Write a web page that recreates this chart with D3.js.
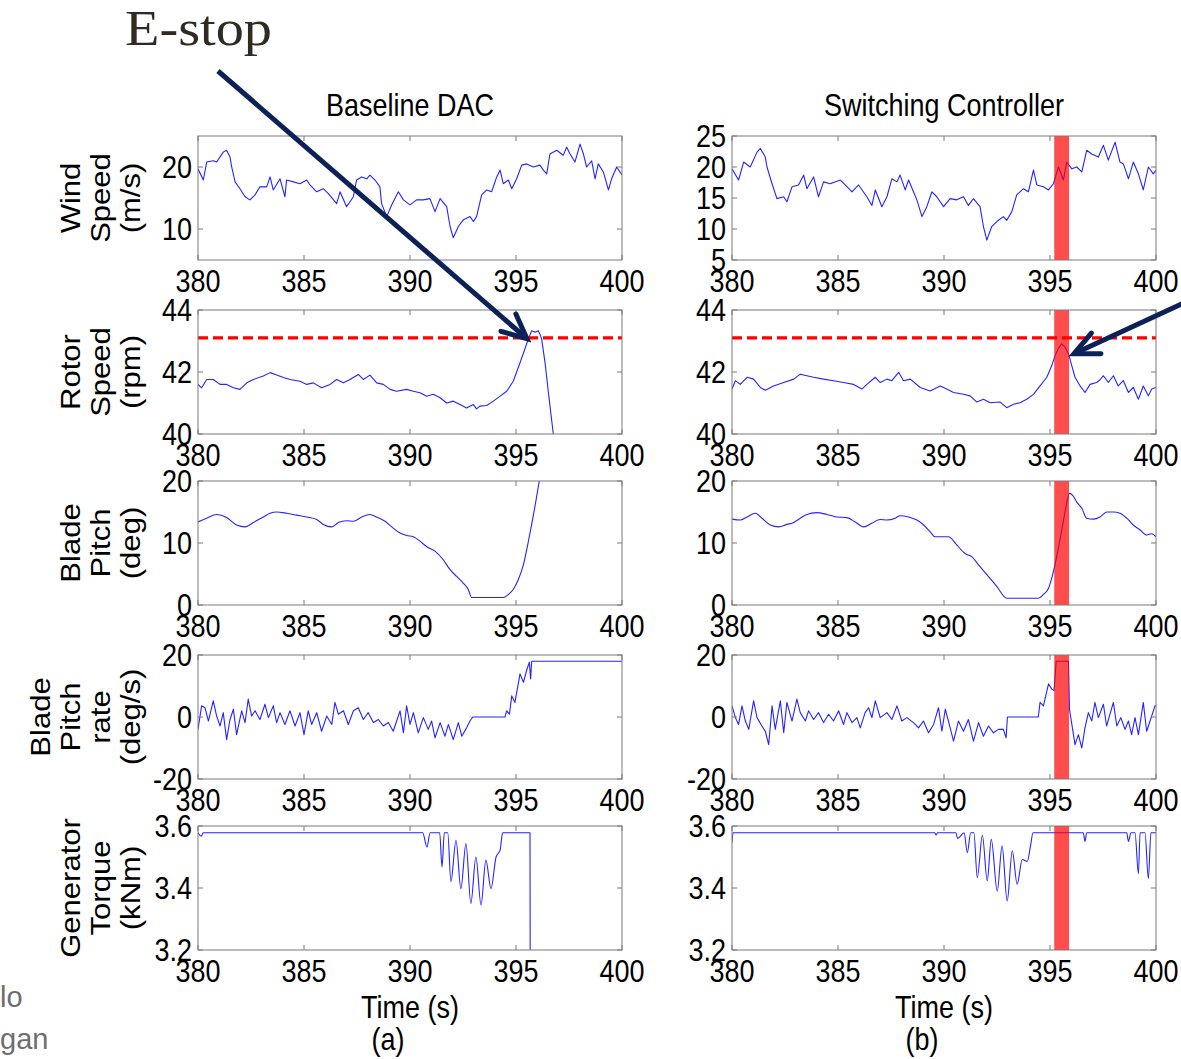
<!DOCTYPE html>
<html><head><meta charset="utf-8">
<script src="https://cdn.jsdelivr.net/npm/d3@7"></script>
<style>body{margin:0;background:#fff}svg{display:block}</style>
</head><body>
<svg id="c" width="1181" height="1059"></svg>
<script>
// ---------------- DATA ----------------
const timeTicks = [380, 385, 390, 395, 400];
const columnTitles = ["Baseline DAC", "Switching Controller"];
const columnSubs = ["(a)", "(b)"];
const rowLabels = [
  ["Wind", "Speed", "(m/s)"],
  ["Rotor", "Speed", "(rpm)"],
  ["Blade", "Pitch", "(deg)"],
  ["Blade", "Pitch", "rate", "(deg/s)"],
  ["Generator", "Torque", "(kNm)"]
];
const rowDomains = [[5, 25], [40, 44], [0, 20], [-20, 20], [3.2, 3.6]];
const yTicksDAC = [[10, 20], [40, 42, 44], [0, 10, 20], [-20, 0, 20], [3.2, 3.4, 3.6]];
const yTicksSW  = [[5, 10, 15, 20, 25], [40, 42, 44], [0, 10, 20], [-20, 0, 20], [3.2, 3.4, 3.6]];
const rotorLimit = 43.1;
const switchWindow = [395.2, 395.9];
const estopTime = 395.75, estopRotor = 43.3;   // arrow target, left panel
const switchPeakTime = 395.8, switchPeakRotor = 42.85;

const windDAC = [[380.00,19.7],[380.25,17.9],[380.41,20.8],[380.72,21.0],[380.88,20.8],[381.19,22.4],[381.35,22.7],[381.51,21.6],[381.59,20.0],[381.75,17.6],[381.98,16.5],[382.22,15.2],[382.45,14.7],[382.69,15.5],[382.92,16.8],[383.24,16.8],[383.40,18.4],[383.55,16.3],[383.87,18.1],[384.10,15.2],[384.18,17.9],[384.50,17.6],[384.81,17.3],[385.13,17.9],[385.28,17.1],[385.60,16.0],[385.91,16.5],[386.15,15.7],[386.54,14.1],[386.70,16.0],[387.01,13.6],[387.33,15.2],[387.48,17.9],[387.72,18.4],[387.96,18.1],[388.11,18.7],[388.35,17.9],[388.58,16.8],[388.66,14.1],[388.90,12.0],[389.14,13.9],[389.45,16.0],[389.69,14.7],[390.00,13.9],[390.31,14.7],[390.63,14.7],[390.94,14.9],[391.18,12.8],[391.42,14.9],[391.73,13.6],[391.89,10.4],[392.04,8.6],[392.28,10.4],[392.52,11.5],[392.83,12.0],[392.99,11.2],[393.14,12.0],[393.38,15.5],[393.62,16.3],[393.85,16.0],[394.09,18.4],[394.25,19.5],[394.40,17.3],[394.64,17.9],[394.80,16.5],[395.03,18.1],[395.27,20.3],[395.50,20.5],[395.82,20.0],[396.13,20.3],[396.29,19.5],[396.45,18.9],[396.60,22.1],[396.92,22.7],[397.23,21.9],[397.39,23.2],[397.55,22.1],[397.78,20.8],[398.02,23.7],[398.18,22.1],[398.33,20.0],[398.57,21.0],[398.73,18.1],[398.88,20.5],[399.12,19.2],[399.36,16.3],[399.51,18.1],[399.75,20.0],[400.00,18.7]];
const windSW = [[380.00,19.7],[380.31,17.9],[380.55,20.8],[380.86,20.0],[381.18,22.4],[381.34,23.0],[381.57,21.6],[381.65,20.0],[381.89,17.3],[382.12,14.9],[382.44,15.2],[382.59,14.4],[382.83,16.8],[383.14,17.1],[383.38,18.7],[383.53,16.5],[383.85,18.4],[384.08,15.2],[384.32,17.6],[384.63,17.3],[385.11,17.9],[385.34,17.1],[385.66,16.0],[385.97,17.1],[386.36,15.2],[386.60,13.8],[386.76,16.3],[387.07,13.6],[387.31,15.2],[387.54,18.1],[387.78,17.6],[387.93,18.7],[388.17,16.3],[388.33,17.9],[388.56,16.0],[388.72,14.7],[388.96,12.0],[389.19,13.6],[389.43,16.0],[389.66,15.2],[389.98,13.6],[390.29,14.9],[390.60,14.7],[390.92,15.2],[391.15,13.8],[391.39,14.9],[391.70,13.6],[391.86,10.4],[392.02,8.2],[392.25,10.4],[392.49,11.2],[392.80,12.0],[392.96,11.4],[393.20,12.8],[393.43,15.5],[393.75,16.5],[393.98,16.0],[394.22,19.5],[394.38,17.1],[394.69,16.8],[394.93,16.3],[395.16,17.3],[395.40,20.0],[395.63,17.9],[395.79,20.8],[396.03,19.7],[396.26,20.0],[396.50,19.2],[396.73,22.7],[396.97,22.1],[397.28,21.6],[397.52,23.5],[397.75,21.1],[398.07,24.0],[398.30,20.8],[398.46,20.5],[398.70,18.1],[398.93,20.8],[399.17,18.9],[399.40,16.3],[399.64,20.0],[399.87,18.9],[400.00,19.5]];

const rotorDAC = [[380.00,41.60],[380.17,41.49],[380.41,41.76],[380.72,41.76],[381.04,41.60],[381.35,41.60],[381.67,41.49],[381.98,41.44],[382.30,41.65],[382.61,41.76],[383.08,41.87],[383.40,41.98],[383.71,41.90],[384.03,41.82],[384.34,41.76],[384.81,41.70],[385.13,41.60],[385.44,41.65],[385.83,41.49],[386.23,41.60],[386.54,41.76],[386.86,41.65],[387.17,41.76],[387.56,41.92],[387.80,41.76],[388.11,41.90],[388.43,41.65],[388.74,41.60],[389.06,41.44],[389.37,41.38],[389.84,41.44],[390.16,41.38],[390.47,41.33],[390.79,41.22],[391.10,41.28],[391.42,41.17],[391.73,41.00],[392.04,41.06],[392.36,40.95],[392.67,40.84],[392.99,40.95],[393.14,40.81],[393.30,40.90],[393.62,40.92],[393.93,41.06],[394.25,41.22],[394.56,41.38],[394.87,41.70],[395.19,42.30],[395.42,42.74],[395.58,43.06],[395.74,43.33],[395.90,43.28],[396.05,43.33],[396.13,43.22],[396.21,43.06],[396.37,42.30],[396.53,41.33],[396.68,40.46],[396.76,40.00],[396.90,39.40]];
const rotorSW = [[380.00,41.45],[380.16,41.72],[380.39,41.60],[380.71,41.83],[381.02,41.77],[381.34,41.50],[381.57,41.41],[381.96,41.55],[382.44,41.66],[382.91,41.77],[383.22,41.93],[383.53,41.88],[383.85,41.83],[384.32,41.77],[384.79,41.72],[385.26,41.66],[385.73,41.60],[386.13,41.45],[386.36,41.60],[386.76,41.83],[386.99,41.66],[387.31,41.77],[387.54,41.72],[387.86,41.99],[388.09,41.72],[388.41,41.77],[388.88,41.50],[389.35,41.39],[389.82,41.55],[390.13,41.45],[390.45,41.34],[390.92,41.28],[391.23,41.23],[391.55,41.03],[391.86,41.12],[392.18,41.01],[392.65,41.03],[392.96,40.85],[393.28,40.96],[393.59,41.01],[393.90,41.12],[394.22,41.28],[394.53,41.55],[394.85,41.83],[395.08,42.20],[395.24,42.53],[395.40,42.77],[395.55,42.91],[395.71,42.80],[395.87,42.59],[396.03,42.20],[396.18,41.83],[396.42,41.55],[396.65,41.34],[396.89,41.60],[397.20,41.66],[397.36,41.75],[397.52,41.88],[397.75,41.66],[397.99,41.88],[398.22,41.55],[398.46,41.72],[398.70,41.34],[398.93,41.50],[399.17,41.12],[399.40,41.55],[399.64,41.23],[399.80,41.45],[400.00,41.50]];

const pitchDAC = [[380.00,13.4],[380.41,14.0],[380.88,14.6],[381.35,14.1],[381.82,12.9],[382.22,12.6],[382.61,13.3],[383.08,14.2],[383.40,14.8],[383.71,15.0],[384.18,14.8],[384.65,14.5],[385.13,14.2],[385.60,13.8],[385.91,13.0],[386.31,12.6],[386.62,13.3],[387.01,13.6],[387.33,13.5],[387.72,14.2],[388.11,14.6],[388.43,14.2],[388.82,13.5],[389.14,12.6],[389.53,11.6],[389.84,11.2],[390.16,11.0],[390.47,10.3],[390.79,9.4],[391.18,8.7],[391.57,7.3],[391.89,5.7],[392.20,4.6],[392.52,3.5],[392.75,2.5],[392.91,1.2],[394.40,1.2],[394.64,1.7],[394.87,2.5],[395.11,4.1],[395.35,6.5],[395.58,10.2],[395.82,14.5],[395.97,17.4],[396.10,20.0],[396.30,23.0]];
const pitchSW = [[380.00,13.85],[380.39,13.7],[380.71,14.2],[381.10,14.8],[381.41,14.0],[381.81,12.9],[382.20,12.6],[382.59,13.0],[382.91,13.3],[383.22,14.0],[383.53,14.6],[384.00,14.9],[384.48,14.6],[384.95,14.2],[385.42,14.1],[385.81,13.4],[386.21,12.6],[386.60,13.2],[386.99,13.8],[387.31,13.7],[387.70,14.0],[387.93,14.4],[388.33,14.2],[388.72,13.7],[389.04,12.9],[389.35,11.8],[389.58,11.0],[390.21,11.0],[390.60,9.7],[390.99,8.3],[391.31,7.8],[391.62,6.5],[392.02,4.9],[392.49,3.0],[392.96,1.1],[394.45,1.1],[394.69,1.7],[394.93,2.7],[395.16,5.4],[395.48,10.7],[395.71,15.0],[395.92,18.0],[396.07,17.7],[396.26,16.6],[396.50,15.6],[396.73,14.0],[397.05,13.85],[397.36,14.2],[397.68,15.0],[397.99,15.0],[398.30,14.8],[398.62,14.0],[398.93,12.9],[399.25,12.1],[399.56,11.3],[399.80,11.5],[400.00,11.0]];

const rateDAC = [[380.00,-4.0],[380.17,3.6],[380.33,3.0],[380.49,-1.3],[380.72,5.2],[380.88,0.3],[381.04,-2.9],[381.19,1.4],[381.35,-7.3],[381.51,-0.8],[381.67,2.5],[381.82,-5.7],[382.06,2.0],[382.22,-1.8],[382.37,5.8],[382.53,0.3],[382.69,2.0],[382.92,-0.8],[383.16,4.1],[383.32,-0.2],[383.55,3.6],[383.71,-1.8],[383.87,1.4],[384.10,-2.4],[384.34,2.0],[384.58,-2.9],[384.81,1.4],[385.00,-5.7],[385.20,2.0],[385.36,-2.4],[385.60,1.4],[385.83,-4.6],[386.07,0.3],[386.31,-2.4],[386.46,4.7],[386.62,0.9],[386.86,2.0],[387.09,-2.4],[387.33,2.0],[387.56,3.0],[387.80,-0.8],[388.03,1.4],[388.27,-1.8],[388.51,-0.8],[388.74,-2.9],[388.98,-1.8],[389.21,-4.6],[389.37,-1.3],[389.53,2.0],[389.69,-5.1],[389.84,3.6],[390.00,-2.4],[390.16,1.4],[390.39,-5.1],[390.63,-0.2],[390.86,-4.0],[391.02,-1.3],[391.18,-6.7],[391.42,-1.8],[391.65,-6.2],[391.81,-2.4],[392.04,-7.3],[392.28,-1.8],[392.44,-6.2],[392.67,-3.5],[392.83,-1.3],[392.96,0],[394.48,0],[394.56,2.0],[394.69,0.9],[394.80,6.8],[394.95,4.7],[395.19,13.9],[395.35,11.2],[395.50,15.0],[395.63,17.7],[395.69,12.3],[395.74,18.0],[400.00,18.0]];
const rateSW = [[380.00,3.6],[380.16,-0.2],[380.31,-2.4],[380.47,3.6],[380.63,-1.3],[380.79,-4.0],[381.02,5.2],[381.18,-0.2],[381.41,-2.9],[381.57,-4.6],[381.73,-8.9],[381.89,3.6],[382.04,-4.0],[382.28,5.2],[382.44,-5.1],[382.59,4.7],[382.83,-1.3],[383.06,5.8],[383.22,1.4],[383.46,-1.3],[383.61,2.0],[383.85,-0.8],[384.08,1.4],[384.32,-1.8],[384.56,0.9],[384.79,-1.3],[385.03,2.0],[385.26,-2.4],[385.42,1.4],[385.66,-1.8],[385.89,-0.2],[386.05,-3.5],[386.28,1.4],[386.44,3.0],[386.60,-0.2],[386.76,5.2],[386.99,-0.2],[387.31,1.4],[387.54,-0.8],[387.78,3.6],[388.01,-1.3],[388.25,-0.2],[388.56,-1.8],[388.80,-3.5],[389.03,-1.3],[389.27,-5.1],[389.51,-2.4],[389.74,3.0],[389.90,-4.6],[390.06,2.5],[390.21,-1.3],[390.45,-7.8],[390.68,-1.3],[390.92,-4.6],[391.15,-0.8],[391.39,-7.8],[391.63,-1.8],[391.86,-6.2],[392.10,-2.9],[392.33,-5.1],[392.57,-4.0],[392.80,-4.0],[392.93,-6.7],[392.99,0],[394.45,0],[394.53,4.7],[394.69,3.6],[394.93,10.7],[395.08,9.0],[395.19,8.5],[395.29,18.0],[395.87,18.0],[395.92,2.5],[396.03,-2.4],[396.18,-8.9],[396.34,-5.7],[396.50,-10.0],[396.65,-3.5],[396.81,1.4],[396.97,-1.3],[397.12,4.7],[397.28,-0.2],[397.52,4.1],[397.67,-2.9],[397.83,0.9],[397.99,4.7],[398.15,-2.9],[398.34,-0.2],[398.54,-4.0],[398.70,-1.3],[398.85,-5.7],[399.01,-0.2],[399.17,-5.7],[399.40,4.7],[399.56,-4.6],[399.72,-1.3],[399.95,3.6],[400.00,3.6]];

const torqueDAC = [[380.00,3.578],[380.15,3.567],[380.25,3.578],[390.60,3.578],[390.80,3.532],[390.95,3.578],[391.40,3.578],[391.51,3.468],[391.62,3.578],[391.78,3.578],[391.93,3.420],[392.17,3.554],[392.40,3.398],[392.64,3.543],[392.87,3.350],[393.11,3.500],[393.35,3.345],[393.58,3.490],[393.82,3.398],[394.06,3.500],[394.25,3.522],[394.37,3.578],[395.66,3.578],[395.67,3.150]];
const torqueSW = [[380.00,3.546],[380.05,3.578],[389.56,3.578],[389.62,3.571],[389.70,3.578],[390.56,3.578],[390.64,3.560],[390.95,3.578],[391.10,3.514],[391.26,3.578],[391.41,3.578],[391.57,3.433],[391.81,3.570],[392.04,3.423],[392.23,3.557],[392.51,3.390],[392.74,3.536],[392.98,3.358],[393.22,3.520],[393.45,3.412],[393.69,3.492],[393.93,3.486],[394.08,3.536],[394.20,3.578],[396.57,3.578],[396.65,3.550],[396.73,3.578],[398.62,3.578],[398.70,3.550],[398.82,3.578],[399.01,3.578],[399.17,3.446],[399.25,3.578],[399.48,3.578],[399.64,3.430],[399.76,3.578],[400.00,3.578]];

const seriesDAC = [windDAC, rotorDAC, pitchDAC, rateDAC, torqueDAC];
const seriesSW  = [windSW, rotorSW, pitchSW, rateSW, torqueSW];

// ---------------- LAYOUT ----------------
const svg = d3.select("#c");
const FONT = "'Liberation Sans', Arial, Helvetica, sans-serif";
const FS = 27, SY = 1.15;
const panelTops = [136, 310, 481, 655, 826];
const panelH = 124;
const cols = [{x0: 198, x1: 622}, {x0: 732, x1: 1156}];
const frameColor = "#7a7a7a";

function txt(g, x, y, s, anchor, extra) {
  return g.append("text")
    .attr("transform", `translate(${x},${y}) scale(1,${SY})` + (extra || ""))
    .attr("text-anchor", anchor || "middle")
    .attr("font-family", FONT).attr("font-size", FS).attr("fill", "#000")
    .text(s);
}

const defs = svg.append("defs");
const scalesStore = [];

cols.forEach((c, ci) => {
  const x = d3.scaleLinear().domain([380, 400]).range([c.x0, c.x1]);
  const colScales = [];
  txt(svg, (c.x0 + c.x1) / 2, 116, columnTitles[ci]);
  panelTops.forEach((top, ri) => {
    const y = d3.scaleLinear().domain(rowDomains[ri]).range([top + panelH, top]);
    colScales.push({x, y});
    const g = svg.append("g");
    const cid = `clip${ci}_${ri}`;
    defs.append("clipPath").attr("id", cid).append("rect")
      .attr("x", c.x0).attr("y", top).attr("width", c.x1 - c.x0).attr("height", panelH);
    const data = (ci === 0 ? seriesDAC : seriesSW)[ri];
    const curve = (ri === 2 || ri === 4) ? d3.curveMonotoneX : d3.curveLinear;
    g.append("path").datum(data)
      .attr("clip-path", `url(#${cid})`)
      .attr("fill", "none").attr("stroke", "#2424ff").attr("stroke-width", 1.1)
      .attr("stroke-linejoin", "round")
      .attr("d", d3.line().x(d => x(d[0])).y(d => y(d[1])).curve(curve));
    if (ri === 1) {
      g.append("line").attr("x1", c.x0).attr("x2", c.x1)
        .attr("y1", y(rotorLimit)).attr("y2", y(rotorLimit))
        .attr("stroke", "#ff0000").attr("stroke-width", 3.2).attr("stroke-dasharray", "10,5");
    }
    if (ci === 1) {
      g.append("rect").attr("x", x(switchWindow[0])).attr("y", top)
        .attr("width", x(switchWindow[1]) - x(switchWindow[0])).attr("height", panelH)
        .attr("fill", "#ff0000").attr("fill-opacity", 0.7);
    }
    g.append("rect").attr("x", c.x0).attr("y", top).attr("width", c.x1 - c.x0).attr("height", panelH)
      .attr("fill", "none").attr("stroke", frameColor).attr("stroke-width", 1);
    const bottom = top + panelH;
    timeTicks.forEach(t => {
      g.append("line").attr("x1", x(t)).attr("x2", x(t)).attr("y1", bottom).attr("y2", bottom - 5)
        .attr("stroke", frameColor);
      g.append("line").attr("x1", x(t)).attr("x2", x(t)).attr("y1", top).attr("y2", top + 5)
        .attr("stroke", frameColor);
      txt(g, x(t), bottom + 32, String(t));
    });
    const yt = (ci === 0 ? yTicksDAC : yTicksSW)[ri];
    yt.forEach(v => {
      g.append("line").attr("x1", c.x0).attr("x2", c.x0 + 5).attr("y1", y(v)).attr("y2", y(v)).attr("stroke", frameColor);
      g.append("line").attr("x1", c.x1).attr("x2", c.x1 - 5).attr("y1", y(v)).attr("y2", y(v)).attr("stroke", frameColor);
      txt(g, c.x0 - 6, y(v) + 11, String(v), "end");
    });
    if (ci === 0) {
      const lines = rowLabels[ri];
      const lh = 30;
      const lastBase = 140;
      const cy = top + panelH / 2;
      lines.forEach((s, li) => {
        const bx = lastBase - (lines.length - 1 - li) * lh;
        txt(g, bx, cy, s, "middle", " rotate(-90)");
      });
    }
  });
  txt(svg, (c.x0 + c.x1) / 2, 1018, "Time (s)");
  txt(svg, ci === 0 ? 388 : 922, 1050, columnSubs[ci]);
  scalesStore.push(colScales);
});

// ---------------- ANNOTATIONS ----------------
const navy = "#0c2155";
svg.append("text").attr("x", 125).attr("y", 45)
  .attr("font-family", "'Liberation Serif', 'DejaVu Serif', serif").attr("font-size", 50)
  .attr("fill", "#2f2b22").attr("textLength", 147).attr("lengthAdjust", "spacingAndGlyphs")
  .text("E-stop");

function arrow(x0, y0, x1, y1) {
  const ang = Math.atan2(y0 - y1, x0 - x1);
  const L = 27, spread = 25 * Math.PI / 180;
  const a1 = [x1 + L * Math.cos(ang - spread), y1 + L * Math.sin(ang - spread)];
  const a2 = [x1 + L * Math.cos(ang + spread), y1 + L * Math.sin(ang + spread)];
  svg.append("line").attr("x1", x0).attr("y1", y0).attr("x2", x1).attr("y2", y1)
    .attr("stroke", navy).attr("stroke-width", 5);
  svg.append("path").attr("d", `M${a1[0]},${a1[1]}L${x1},${y1}L${a2[0]},${a2[1]}`)
    .attr("fill", "none").attr("stroke", navy).attr("stroke-width", 5)
    .attr("stroke-linejoin", "miter").attr("stroke-linecap", "round");
}
const sL = scalesStore[0][1], sR = scalesStore[1][1];
arrow(218, 71, sL.x(estopTime) - 5, sL.y(estopRotor) + 7);
arrow(1188, 301, sR.x(switchPeakTime) + 7, sR.y(switchPeakRotor) + 8);

// stray slide text on the left edge
svg.append("text").attr("x", 0).attr("y", 1007).attr("font-family", FONT).attr("font-size", 29)
  .attr("fill", "#6e6e6e").text("lo");
svg.append("text").attr("x", 0).attr("y", 1049).attr("font-family", FONT).attr("font-size", 29)
  .attr("fill", "#6e6e6e").text("gan");
</script>
</body></html>
